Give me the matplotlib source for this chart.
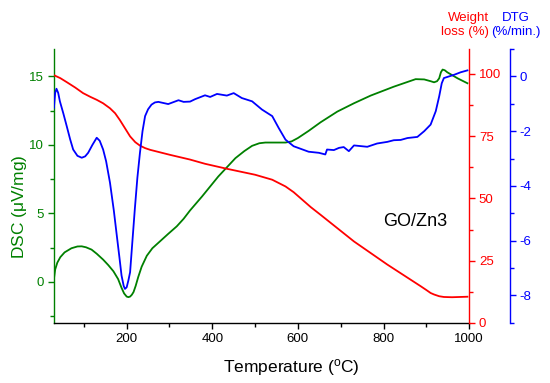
import matplotlib
matplotlib.use('Agg')
import matplotlib.pyplot as plt
from matplotlib.ticker import MultipleLocator, FixedLocator

plt.rcParams['font.family'] = ['Liberation Sans', 'DejaVu Sans']
plt.rcParams['axes.unicode_minus'] = False

# DSC (green, left axis)
T_dsc = [30, 33, 38, 45, 55, 71, 85, 95, 105, 118, 130, 145, 157, 169, 180, 188, 194, 200, 204,
         208, 212, 216, 221, 227, 235, 247, 260, 278, 297, 317, 333, 348, 376, 414, 454, 475,
         493, 510, 524, 550, 571, 585, 600, 625, 653, 692, 731, 770, 824, 875, 895, 910, 918,
         925, 930, 934, 938, 943, 949, 973, 996]
dsc = [0.2, 0.9, 1.4, 1.8, 2.15, 2.45, 2.58, 2.59, 2.52, 2.35, 2.05, 1.62, 1.22, 0.77, 0.2,
       -0.44, -0.85, -1.08, -1.12, -1.08, -0.95, -0.75, -0.3, 0.35, 1.1, 1.9, 2.45, 2.96, 3.5,
       4.05, 4.6, 5.21, 6.23, 7.69, 9.03, 9.55, 9.93, 10.12, 10.17, 10.17, 10.17, 10.25, 10.5,
       11.02, 11.65, 12.43, 13.04, 13.6, 14.25, 14.8, 14.78, 14.65, 14.57, 14.65, 14.86, 15.3,
       15.5, 15.45, 15.3, 14.86, 14.5]

# Weight loss (red, right axis)
T_w = [30, 45, 60, 80, 98, 115, 130, 145, 161, 173, 184, 196, 208, 220, 231, 243, 255, 278,
       301, 348, 383, 434, 500, 540, 571, 590, 610, 630, 653, 731, 809, 887, 900, 910, 918,
       930, 941, 960, 996]
weight = [99.5, 98.3, 96.7, 94.5, 92.3, 90.8, 89.6, 88.2, 86.2, 84.2, 81.5, 78.2, 74.9, 72.6,
          71.2, 70.2, 69.5, 68.5, 67.5, 65.6, 63.9, 61.9, 59.5, 57.5, 54.8, 52.5, 49.5, 46.5,
          43.4, 32.7, 23.4, 14.7, 13.2, 12.0, 11.4, 10.7, 10.4, 10.3, 10.5]

# DTG (blue, offset right axis)
T_dtg = [30, 33, 36, 40, 44, 52, 60, 68, 75, 85, 95, 103, 110, 120, 130, 137, 145, 152, 161,
         170, 177, 183, 188, 193, 196, 200, 204, 208, 213, 219, 225, 231, 237, 243, 250, 258,
         266, 274, 297, 321, 333, 348, 360, 383, 395, 411, 434, 450, 469, 493, 516, 540, 555,
         571, 590, 625, 649, 664, 668, 684, 696, 707, 719, 731, 762, 785, 809, 824, 840, 856,
         879, 895, 910, 922, 930, 936, 941, 953, 965, 980, 996]
dtg = [-1.15, -0.6, -0.45, -0.6, -0.91, -1.35, -1.82, -2.3, -2.67, -2.9, -2.97, -2.92, -2.79,
       -2.5, -2.24, -2.35, -2.67, -3.1, -3.88, -4.9, -5.82, -6.6, -7.27, -7.65, -7.76, -7.7,
       -7.45, -7.15, -6.1, -4.85, -3.7, -2.79, -2.0, -1.45, -1.2, -1.03, -0.95, -0.93, -1.01,
       -0.87, -0.93, -0.92, -0.83, -0.69, -0.75, -0.64, -0.70, -0.61, -0.79, -0.91, -1.21,
       -1.45, -1.88, -2.31, -2.55, -2.75, -2.79, -2.85, -2.67, -2.69, -2.61, -2.58, -2.73,
       -2.52, -2.57, -2.45, -2.39, -2.33, -2.32, -2.25, -2.21, -2.0, -1.76, -1.27, -0.73,
       -0.25, -0.06, 0.0, 0.06, 0.15, 0.22]

GREEN = '#008000'
RED = '#ff0000'
BLUE = '#0000ff'

fig = plt.figure(figsize=(5.5, 3.83), dpi=100)
ax = fig.add_axes([0.098, 0.157, 0.755, 0.715])
ax2 = ax.twinx()
ax3 = ax.twinx()

ax.plot(T_dsc, dsc, color=GREEN, lw=1.3)
ax2.plot(T_w, weight, color=RED, lw=1.3)
ax3.plot(T_dtg, dtg, color=BLUE, lw=1.3)

ax.set_xlim(30, 1000)
ax.set_ylim(-3, 17)
ax2.set_ylim(0, 110)
ax3.set_ylim(-9, 1)

for a in (ax, ax2, ax3):
    a.spines['top'].set_visible(False)
    for s in a.spines.values():
        s.set_linewidth(1.0)
ax.spines['right'].set_visible(False)
for a in (ax2, ax3):
    a.spines['left'].set_visible(False)
    a.spines['bottom'].set_visible(False)
ax.spines['left'].set_color(GREEN)
ax2.spines['right'].set_color(RED)
ax3.spines['right'].set_color(BLUE)
ax3.spines['right'].set_position(('outward', 29.5))

ax.xaxis.set_major_locator(FixedLocator([200, 400, 600, 800, 1000]))
ax.xaxis.set_minor_locator(FixedLocator([100, 300, 500, 700, 900]))
ax.yaxis.set_major_locator(MultipleLocator(5))
ax.yaxis.set_minor_locator(MultipleLocator(2.5))
ax2.yaxis.set_major_locator(MultipleLocator(25))
ax2.yaxis.set_minor_locator(MultipleLocator(12.5))
ax3.yaxis.set_major_locator(FixedLocator([-8, -6, -4, -2, 0]))
ax3.yaxis.set_minor_locator(FixedLocator([-9, -7, -5, -3, -1, 1]))

tk = dict(direction='out', labelsize=9.5, width=1.0)
ax.tick_params(axis='x', which='major', length=4, pad=3.5, colors='black', **tk)
ax.tick_params(axis='x', which='minor', length=3, direction='out', width=1.0)
ax.tick_params(axis='y', which='major', length=4, pad=3, colors=GREEN, **tk)
ax.tick_params(axis='y', which='minor', length=3, direction='out', width=1.0, colors=GREEN)
ax2.tick_params(axis='y', which='major', length=4, pad=3, colors=RED, **tk)
ax2.tick_params(axis='y', which='minor', length=3, direction='out', width=1.0, colors=RED)
ax3.tick_params(axis='y', which='major', length=4, pad=3, colors=BLUE, **tk)
ax3.tick_params(axis='y', which='minor', length=3, direction='out', width=1.0, colors=BLUE)

ax.set_xlabel('Temperature ($\\mathregular{^o}$C)', fontsize=12.5)
ax.xaxis.label.set_va('center')
ax.xaxis.set_label_coords(0.572, -0.164)
ax.set_ylabel('DSC ($\\mathregular{\\mu}$V/mg)', fontsize=12.5, color=GREEN)
ax.yaxis.label.set_va('center')
ax.yaxis.set_label_coords(-0.082, 0.423)

fig.text(0.889, 0.935, 'Weight\nloss (%)', color=RED, fontsize=9.5, ha='right', va='center',
         ma='right', linespacing=1.15)
fig.text(0.938, 0.935, 'DTG\n(%/min.)', color=BLUE, fontsize=9.5, ha='center', va='center',
         ma='center', linespacing=1.15)
ax.text(0.87, 0.37, 'GO/Zn3', transform=ax.transAxes, fontsize=13, ha='center', va='center')

fig.savefig('out.png', dpi=100)
